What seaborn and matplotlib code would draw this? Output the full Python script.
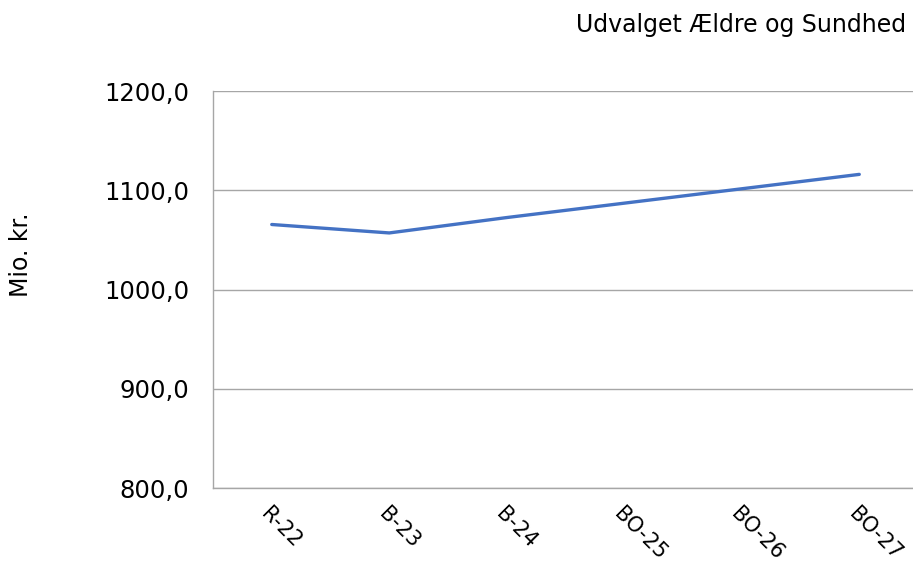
import pandas as pd
import matplotlib.pyplot as plt
import seaborn as sns
from matplotlib.ticker import FixedLocator, FuncFormatter

# Data
categories = ["R-22", "B-23", "B-24", "BO-25", "BO-26", "BO-27"]
values = [1065.5, 1057.0, 1072.5, 1087.0, 1101.5, 1116.0]
y_ticks = [800, 900, 1000, 1100, 1200]

df = pd.DataFrame({"x": range(len(categories)), "value": values})

sns.set_style("white")
plt.rcParams["font.family"] = ["DejaVu Sans"]
plt.rcParams["text.color"] = "black"
plt.rcParams["xtick.color"] = "black"
plt.rcParams["ytick.color"] = "black"

fig = plt.figure(figsize=(9.13, 5.66), dpi=100)
ax = fig.add_axes([0.2333, 0.1378, 0.7722, 0.7014])

sns.lineplot(data=df, x="x", y="value", color="#4472C4", linewidth=2.4, ax=ax)

ax.set_xlim(-0.5, len(categories) - 0.5)
ax.set_ylim(800, 1200)
ax.set_yticks(y_ticks)
ax.yaxis.set_major_formatter(FuncFormatter(lambda v, p: f"{v:.1f}".replace(".", ",")))
ax.yaxis.grid(True, color="#a6a6a6", linewidth=1)
ax.set_axisbelow(True)

# category labels at centres, tick marks at the boundaries
ax.set_xticks(range(len(categories)))
ax.set_xticklabels(categories, rotation=-45, ha="left", va="top", rotation_mode="anchor")
ax.xaxis.set_minor_locator(FixedLocator([i - 0.5 for i in range(len(categories) + 1)]))
ax.tick_params(axis="x", which="major", length=0, pad=11, labelsize=15, labelcolor="black")
ax.tick_params(axis="x", which="minor", length=6, color="#a6a6a6", width=1, direction="out")
ax.tick_params(axis="y", length=7, color="#a6a6a6", width=1, direction="out", pad=10,
               labelsize=17.5, labelcolor="black")

for side in ["top", "right"]:
    ax.spines[side].set_visible(False)
for side in ["left", "bottom"]:
    ax.spines[side].set_color("#a6a6a6")
    ax.spines[side].set_linewidth(1)

ax.set_xlabel("")
ax.set_ylabel("")
fig.text(0.023, 0.55, "Mio. kr.", rotation=90, ha="center", va="center", fontsize=17)
fig.text(0.992, 0.955, "Udvalget Ældre og Sundhed", ha="right", va="center", fontsize=17)

fig.savefig("out.png", dpi=100)
